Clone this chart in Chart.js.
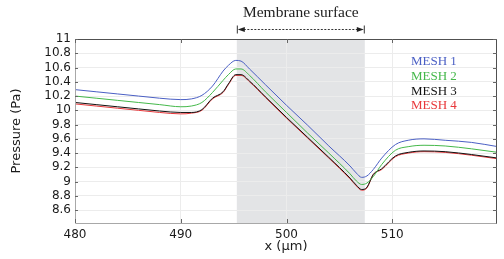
<!DOCTYPE html>
<html><head><meta charset="utf-8">
<script src="https://cdn.jsdelivr.net/npm/chart.js@4/dist/chart.umd.min.js"></script>
<style>html,body{margin:0;padding:0;background:#fff}#wrap{width:504px;height:259px}</style>
</head><body><div id="wrap"><canvas id="c" width="504" height="259"></canvas></div>
<script>
const xValues = [480, 482, 484, 486, 488, 490, 491, 492, 493, 494, 494.5, 495.2, 495.7, 496.5, 498, 500, 502, 504, 506, 506.6, 507.1, 507.6, 508.2, 509, 510.3, 511.5, 513, 515, 517.5, 520];
const mesh1 = [10.29, 10.26, 10.23, 10.20, 10.17, 10.15, 10.16, 10.21, 10.34, 10.55, 10.63, 10.70, 10.69, 10.58, 10.36, 10.07, 9.79, 9.50, 9.22, 9.12, 9.06, 9.08, 9.17, 9.33, 9.52, 9.58, 9.60, 9.58, 9.55, 9.49];
const mesh2 = [10.20, 10.17, 10.14, 10.11, 10.08, 10.05, 10.06, 10.11, 10.25, 10.42, 10.50, 10.58, 10.58, 10.49, 10.26, 9.97, 9.68, 9.40, 9.11, 9.01, 8.96, 8.98, 9.07, 9.24, 9.44, 9.49, 9.51, 9.50, 9.46, 9.41];
const mesh3 = [10.11, 10.08, 10.05, 10.02, 9.99, 9.97, 9.97, 10.01, 10.17, 10.26, 10.37, 10.50, 10.50, 10.41, 10.19, 9.90, 9.62, 9.34, 9.05, 8.95, 8.89, 8.92, 9.10, 9.18, 9.36, 9.41, 9.43, 9.42, 9.38, 9.33];
const mesh4 = [10.09, 10.06, 10.03, 10.00, 9.97, 9.95, 9.96, 10.00, 10.16, 10.25, 10.36, 10.49, 10.49, 10.40, 10.18, 9.89, 9.61, 9.33, 9.04, 8.94, 8.88, 8.91, 9.10, 9.17, 9.35, 9.40, 9.42, 9.41, 9.37, 9.32];
const seriesLabels = ['MESH 1', 'MESH 2', 'MESH 3', 'MESH 4'];
const xTicks = [480, 490, 500, 510];
const yTicks = [8.6, 8.8, 9, 9.2, 9.4, 9.6, 9.8, 10, 10.2, 10.4, 10.6, 10.8, 11];
const membraneBand = [495.3, 507.4];
const bandLabel = 'Membrane surface';

const colors = ['#4a5fc4', '#44b84a', '#111111', '#e8373a'];
const allSeries = [mesh1, mesh2, mesh3, mesh4];

const datasets = allSeries.map((s, i) => ({
  label: seriesLabels[i],
  data: xValues.map((x, j) => ({x: x, y: s[j]})),
  borderColor: colors[i],
  borderWidth: 1,
  pointRadius: 0,
  cubicInterpolationMode: 'monotone',
  fill: false
}));

const framePlugin = {
  id: 'frame',
  beforeDraw(chart) {
    const {ctx, chartArea: a, scales: {x}} = chart;
    const x0 = x.getPixelForValue(membraneBand[0]);
    const x1 = x.getPixelForValue(membraneBand[1]);
    ctx.save();
    ctx.fillStyle = '#e3e4e6';
    ctx.fillRect(x0, a.top, x1 - x0, a.bottom - a.top);
    ctx.restore();
  },
  afterDatasetsDraw(chart) {
    const {ctx, chartArea: a, scales: {x, y}} = chart;
    ctx.save();
    ctx.lineWidth = 1;
    ctx.strokeStyle = '#a8a8a8';
    ctx.beginPath();
    ctx.moveTo(a.left + 0.5, a.top); ctx.lineTo(a.left + 0.5, a.bottom + 0.5); ctx.lineTo(a.right, a.bottom + 0.5);
    ctx.stroke();
    ctx.strokeStyle = '#505050';
    ctx.beginPath();
    ctx.moveTo(a.left, a.top + 0.5); ctx.lineTo(a.right - 0.5, a.top + 0.5); ctx.lineTo(a.right - 0.5, a.bottom + 0.5);
    ctx.stroke();
    ctx.strokeStyle = '#666';
    ctx.beginPath();
    yTicks.forEach(v => {
      const py = Math.round(y.getPixelForValue(v)) + 0.5;
      ctx.moveTo(a.left, py); ctx.lineTo(a.left + 3, py);
      ctx.moveTo(a.right, py); ctx.lineTo(a.right - 4, py);
    });
    xTicks.forEach(v => {
      const px = Math.round(x.getPixelForValue(v)) + 0.5;
      ctx.moveTo(px, a.bottom); ctx.lineTo(px, a.bottom - 4);
      ctx.moveTo(px, a.top); ctx.lineTo(px, a.top + 4);
    });
    ctx.stroke();
    const x0 = x.getPixelForValue(membraneBand[0]);
    const x1 = x.getPixelForValue(membraneBand[1]);
    const ay = 29.5;
    ctx.strokeStyle = '#333';
    ctx.fillStyle = '#222';
    ctx.setLineDash([2, 1.5]);
    ctx.beginPath(); ctx.moveTo(x0 + 7, ay); ctx.lineTo(x1 - 7, ay); ctx.stroke();
    ctx.setLineDash([]);
    ctx.beginPath();
    ctx.moveTo(x0 + 0.5, ay - 4); ctx.lineTo(x0 + 0.5, ay + 4);
    ctx.moveTo(x1 - 0.5, ay - 4); ctx.lineTo(x1 - 0.5, ay + 4);
    ctx.stroke();
    ctx.beginPath();
    ctx.moveTo(x0 + 1, ay); ctx.lineTo(x0 + 8, ay - 2.5); ctx.lineTo(x0 + 8, ay + 2.5); ctx.closePath(); ctx.fill();
    ctx.beginPath();
    ctx.moveTo(x1 - 1, ay); ctx.lineTo(x1 - 8, ay - 2.5); ctx.lineTo(x1 - 8, ay + 2.5); ctx.closePath(); ctx.fill();
    ctx.font = '15.5px "Liberation Serif", serif';
    ctx.textAlign = 'center';
    ctx.textBaseline = 'middle';
    ctx.fillStyle = '#222';
    ctx.fillText(bandLabel, (x0 + x1) / 2, 13);
    ctx.font = '13px "Liberation Serif", serif';
    ctx.textAlign = 'left';
    chart.data.datasets.forEach((d, i) => {
      ctx.fillStyle = d.borderColor;
      ctx.fillText(d.label, 411, 62 + i * 14.6);
    });
    ctx.restore();
  }
};

new Chart(document.getElementById('c'), {
  type: 'line',
  data: {datasets},
  options: {
    responsive: false,
    animation: false,
    layout: {padding: {left: 0, right: 7, top: 39, bottom: 0}},
    plugins: {legend: {display: false}, tooltip: {enabled: false}},
    scales: {
      x: {
        type: 'linear', min: 480, max: 519.9,
        afterBuildTicks: s => { s.ticks = xTicks.map(v => ({value: v})); },
        afterFit: s => { s.height = 36; },
        grid: {color: '#ececec', drawTicks: false},
        border: {display: false},
        ticks: {autoSkip: false, padding: 5, color: '#1a1a1a', font: {family: 'DejaVu Sans', size: 12}, maxRotation: 0},
        title: {display: true, text: 'x (μm)', color: '#1a1a1a', font: {family: 'DejaVu Sans', size: 13}, padding: {top: 0, bottom: 5}}
      },
      y: {
        min: 8.42, max: 11,
        afterBuildTicks: s => { s.ticks = yTicks.map(v => ({value: v})); },
        afterFit: s => { s.width = 75; },
        grid: {color: '#ececec', drawTicks: false},
        border: {display: false},
        ticks: {autoSkip: false, padding: 4, color: '#1a1a1a', font: {family: 'DejaVu Sans', size: 12}, callback: v => String(v)},
        title: {display: true, text: 'Pressure (Pa)', color: '#1a1a1a', font: {family: 'DejaVu Sans', size: 13}, padding: {top: 9, bottom: 0}}
      }
    }
  },
  plugins: [framePlugin]
});
</script></body></html>
